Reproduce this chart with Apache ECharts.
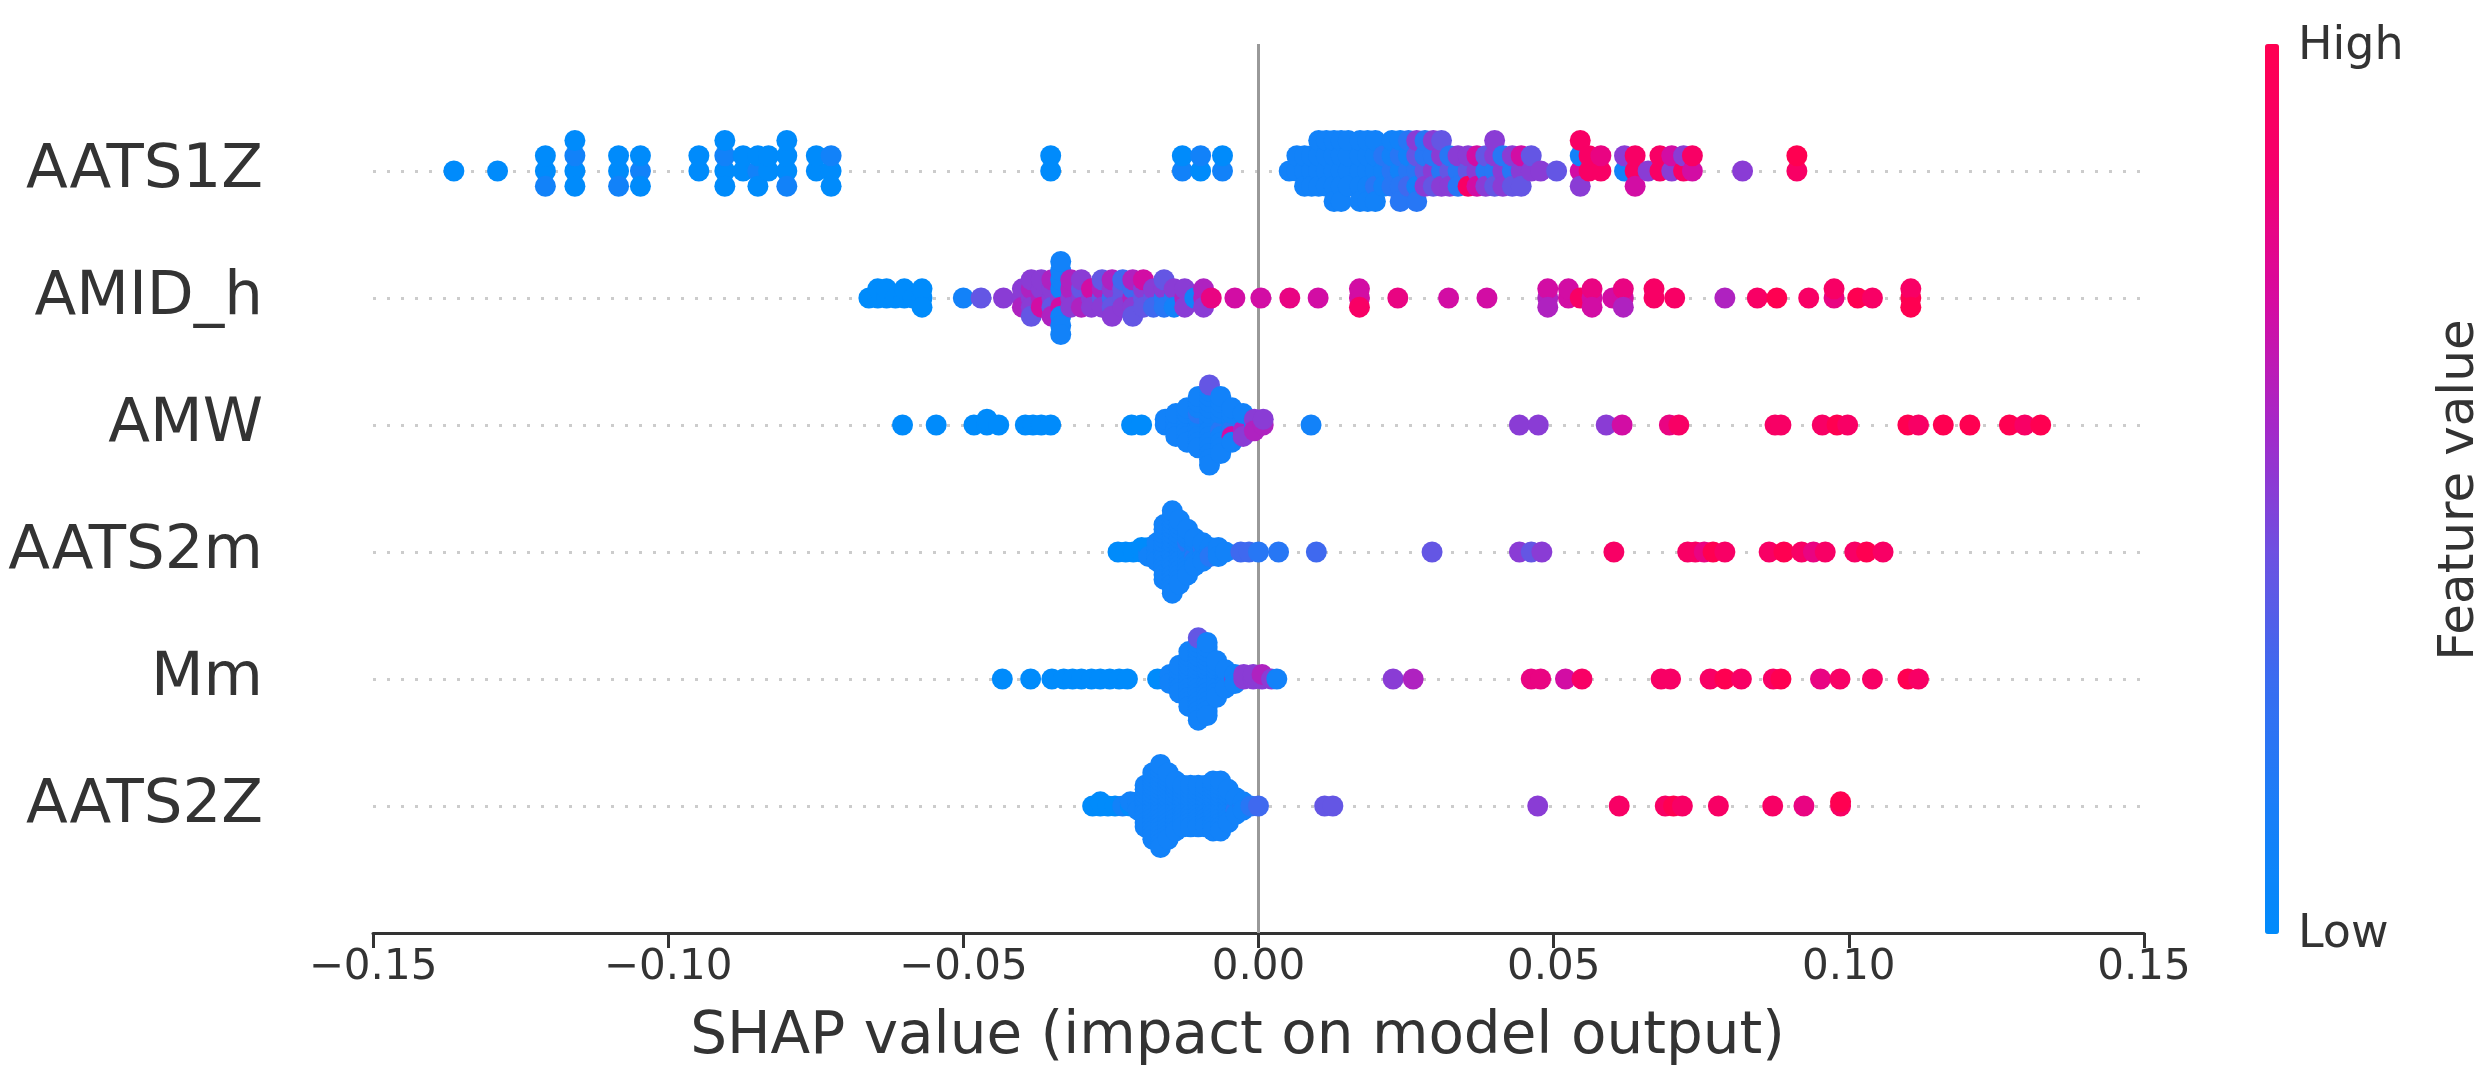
<!DOCTYPE html>
<html><head><meta charset="utf-8">
<script src="https://cdn.jsdelivr.net/npm/echarts@6/dist/echarts.min.js"></script>
<style>html,body{margin:0;padding:0;background:#fff}#c{width:2482px;height:1091px}</style>
</head><body><div id="c"></div>
<script>
// Feature rows, bottom -> top
const featureNames = ['AATS2Z', 'Mm', 'AATS2m', 'AMW', 'AMID_h', 'AATS1Z'];
const xTickValues = [-0.15, -0.10, -0.05, 0.00, 0.05, 0.10, 0.15];
const colorbarLabels = ['High', 'Low'];
// Each group: [SHAP value, [feature values of the points in that bin, 0 (low) .. 10 (high)]]
const AATS1Z = [
  [-0.1363,[0]],[-0.1289,[0]],[-0.1208,[0,0,1]],[-0.1158,[0,1,0,0]],[-0.1084,[0,0,1]],[-0.1047,[1,0,0]],
  [-0.0948,[0,0]],[-0.0904,[0,1,0,0]],[-0.0873,[0,0]],[-0.0848,[1,0,0]],[-0.0830,[0,0]],[-0.0799,[0,0,1,0]],
  [-0.0749,[0,0]],[-0.0724,[0,1,0]],[-0.0352,[0,0]],[-0.0129,[1,0]],[-0.0098,[0,1]],[-0.0061,[1,0]],
  [0.0052,[1]],[0.0065,[1,1]],[0.0078,[1,1,1]],[0.0090,[1,1,1]],[0.0102,[1,1,1,1]],[0.0115,[1,1,1,1]],
  [0.0128,[1,1,1,1,1]],[0.0140,[1,1,1,1,1]],[0.0152,[1,1,1,1]],[0.0172,[1,1,1,1,1]],[0.0185,[1,1,1,1,1]],
  [0.0198,[1,1,2,1,1]],[0.0212,[1,2,1]],[0.0226,[2,1,2,1]],[0.0240,[1,2,2,1,2]],[0.0254,[2,1,3,2]],
  [0.0268,[2,4,1,5,2]],[0.0282,[4,2,5,2]],[0.0296,[5,2,4,5]],[0.0310,[2,5,5,4]],[0.0324,[4,2,5]],
  [0.0338,[2,5,2]],[0.0355,[4,5,9]],[0.0370,[5,7,7]],[0.0385,[2,4,5]],[0.0400,[2,5,4,5]],[0.0414,[5,2,5]],
  [0.0430,[2,5,4]],[0.0445,[5,7,4]],[0.0462,[5,4]],[0.0478,[5]],[0.0505,[4]],[0.0545,[7,1,5,9]],
  [0.0560,[9,9]],[0.0580,[9,8]],[0.0620,[1,5]],[0.0638,[9,9,7]],[0.0660,[5]],[0.0680,[9,9]],
  [0.0700,[5,7]],[0.0720,[9,5]],[0.0735,[7,9]],[0.0820,[5]],[0.0912,[9,10]]
];
const AMID_h = [
  [-0.0660,[0]],[-0.0645,[0,0]],[-0.0630,[0,0]],[-0.0615,[0]],[-0.0600,[0,0]],[-0.0585,[0]],[-0.0570,[0,0,0]],
  [-0.0500,[1]],[-0.0470,[4]],[-0.0432,[5]],
  [-0.0400,[5,5,6]],[-0.0385,[5,6,5,5,4]],[-0.0368,[6,5,7,5]],[-0.0350,[5,5,4,6,6]],
  [-0.0335,[5,1,7,1,1,1,1,1,1]],[-0.0318,[5,6,5,6]],[-0.0300,[5,4,6,5]],[-0.0283,[5,7,5]],
  [-0.0265,[4,6,5,4]],[-0.0248,[3,5,4,6,5]],[-0.0230,[4,4,5,3]],[-0.0213,[6,3,5,6,4]],
  [-0.0195,[4,5,4,7]],[-0.0178,[4,5,3]],[-0.0160,[2,5,2,4]],[-0.0143,[2,5,1]],[-0.0125,[6,5,5]],
  [-0.0108,[1]],[-0.0093,[6,6,5]],
  [-0.0080,[8]],[-0.0040,[7]],[0.0004,[7]],[0.0053,[8]],[0.0101,[7]],[0.0171,[7,7,9]],[0.0236,[8]],
  [0.0322,[7]],[0.0387,[7]],[0.0490,[6,7,6]],[0.0525,[7,7]],[0.0545,[9]],[0.0565,[7,8,7]],[0.0600,[7]],
  [0.0618,[7,8,6]],[0.0670,[9,9]],[0.0705,[9]],[0.0790,[6]],[0.0845,[9]],[0.0878,[10]],[0.0932,[9]],
  [0.0975,[8,9]],[0.1015,[10]],[0.1040,[9]],[0.1105,[10,9,10]]
];
const AMW = [
  [-0.0603,[0]],[-0.0546,[0]],[-0.0482,[0]],[-0.0460,[0,0]],[-0.0440,[0]],[-0.0395,[0]],[-0.0382,[0]],
  [-0.0368,[0]],[-0.0352,[0]],[-0.0215,[0]],[-0.0198,[0]],
  [-0.0158,[1,1]],[-0.0140,[1,1,1,1,1]],[-0.0121,[1,1,1,1,1,1,1]],[-0.0102,[1,1,1,2,1,1,1,1,1,1]],
  [-0.0083,[1,1,1,1,1,1,1,1,1,1,1,1,1,4,1]],[-0.0064,[1,1,2,1,1,1,1,1,1,1,1]],
  [-0.0045,[1,1,2,1,7,1,1]],[-0.0026,[2,1,6,1,5]],[-0.0007,[1,5,6]],[0.0008,[6,5]],[0.0089,[1]],
  [0.0442,[5]],[0.0474,[5]],[0.0589,[5]],[0.0616,[7]],[0.0696,[8]],[0.0712,[9]],[0.0875,[9]],[0.0885,[9]],
  [0.0955,[9]],[0.0980,[10]],[0.0998,[9]],[0.1100,[10]],[0.1118,[9]],[0.1160,[10]],[0.1205,[10]],
  [0.1272,[10]],[0.1298,[9]],[0.1325,[10]]
];
const AATS2m = [
  [-0.0238,[0]],[-0.0225,[0]],[-0.0212,[0]],[-0.0198,[0,0]],[-0.0186,[1,0,1]],[-0.0172,[1,1,1,1,1]],
  [-0.0160,[1,1,1,1,1,1,1,1,1,1,1,1,1]],
  [-0.0146,[1,1,1,1,1,1,1,1,1,1,1,1,1,1,1,1,1,1,1]],
  [-0.0134,[1,1,1,1,1,1,1,1,1,1,1,1,1,1,1]],
  [-0.0120,[1,1,1,2,1,1,1,1,1,1,1]],
  [-0.0108,[1,1,2,1,1,1,1]],[-0.0094,[1,2,1,1,1]],[-0.0082,[1,1,2]],[-0.0068,[1,1,1]],[-0.0056,[1]],
  [-0.0030,[3]],[-0.0016,[3]],[0.0000,[2]],[0.0034,[2]],[0.0098,[3]],
  [0.0294,[4]],[0.0442,[5]],[0.0462,[4]],[0.0480,[5]],[0.0602,[9]],[0.0727,[9]],[0.0740,[9]],
  [0.0755,[8]],[0.0770,[10]],[0.0790,[9]],[0.0865,[9]],[0.0890,[10]],[0.0920,[9]],[0.0940,[8]],
  [0.0960,[9]],[0.1010,[9]],[0.1030,[10]],[0.1058,[9]]
];
const Mm = [
  [-0.0434,[0]],[-0.0386,[0]],[-0.0350,[0]],[-0.0330,[0]],[-0.0315,[0]],[-0.0300,[0]],[-0.0283,[0]],
  [-0.0268,[0]],[-0.0252,[0]],[-0.0236,[0]],[-0.0222,[0]],[-0.0171,[0]],
  [-0.0150,[1,1,1]],[-0.0134,[1,1,1,1,1,1,1]],
  [-0.0118,[1,1,1,1,1,1,1,1,1,1,1,1,1]],
  [-0.0102,[1,1,1,1,1,1,1,1,1,1,1,1,1,1,1,1,1,4,1]],
  [-0.0087,[1,1,1,1,1,1,1,1,1,1,1,1,1,1,1,1,1]],
  [-0.0071,[1,1,1,1,1,1,1,1,1]],[-0.0056,[1,1,1,1,1]],[-0.0040,[6,1,1]],
  [-0.0025,[5,5]],[-0.0009,[5,5]],[0.0006,[5,6]],[0.0022,[5]],[0.0031,[1]],
  [0.0228,[5]],[0.0262,[6]],[0.0462,[8]],[0.0478,[8]],[0.0520,[7]],[0.0548,[9]],[0.0682,[9]],[0.0698,[9]],
  [0.0765,[9]],[0.0790,[10]],[0.0818,[9]],[0.0872,[9]],[0.0885,[10]],[0.0952,[8]],[0.0985,[9]],
  [0.1040,[9]],[0.1100,[10]],[0.1118,[9]]
];
const AATS2Z = [
  [-0.0281,[0]],[-0.0268,[0,0]],[-0.0255,[0]],[-0.0243,[0]],[-0.0230,[1]],[-0.0217,[0,1]],[-0.0204,[1,1,1]],
  [-0.0192,[1,1,1,1,1,1,1,1,1,1,1]],
  [-0.0179,[1,1,1,1,1,1,1,1,1,1,1,1,1,1,1,1,1]],
  [-0.0166,[1,1,1,1,1,1,1,1,1,1,1,1,1,1,1,1,1,1,1,1,1]],
  [-0.0153,[1,1,1,1,1,1,1,1,1,1,1,1,1,1,1,1,1]],
  [-0.0140,[1,1,1,1,1,1,1,1,1,1,1,1,1]],
  [-0.0128,[1,1,1,1,1,1,1,1,1,1,1]],
  [-0.0115,[1,1,1,1,1,1,1,1,1,1,1]],
  [-0.0102,[1,1,1,1,1,1,1,1,1,1,1]],
  [-0.0089,[1,1,1,1,1,1,1,1,1,1,1]],
  [-0.0077,[1,1,1,1,1,1,1,1,1,1,1,1,1]],
  [-0.0064,[1,1,1,1,1,1,1,1,1,1,1,1,1]],
  [-0.0051,[1,1,1,1,1,1,1,1,1]],
  [-0.0038,[1,1,2,1,1]],[-0.0026,[2,1,1]],[-0.0013,[2]],[0.0000,[3]],
  [0.0112,[4]],[0.0126,[4]],[0.0473,[5]],[0.0611,[9]],[0.0689,[9]],[0.0703,[10]],[0.0718,[9]],
  [0.0779,[9]],[0.0871,[9]],[0.0924,[8]],[0.0986,[9,10]]
];
const rowGroups = [AATS2Z, Mm, AATS2m, AMW, AMID_h, AATS1Z];

// shap-style beeswarm stacking (layout only)
function beeswarm(groups, rowIdx) {
  let maxN = 0;
  groups.forEach(g => { maxN = Math.max(maxN, g[1].length); });
  const maxPos = Math.floor(maxN / 2);
  const step = 0.9 * 0.4 / (maxPos + 1);
  const pts = [];
  groups.forEach(([x, vals]) => {
    vals.forEach((v, layer) => {
      const off = Math.ceil(layer / 2) * (layer % 2 ? 1 : -1);
      pts.push([x, rowIdx + off * step, v]);
    });
  });
  return pts;
}
let points = [];
rowGroups.forEach((g, i) => { points = points.concat(beeswarm(g, i)); });

const FONT = 'DejaVu Sans';
const chart = echarts.init(document.getElementById('c'), null, {renderer: 'canvas'});
const rowLines = featureNames.map((n, i) => ({yAxis: i, lineStyle: {color: '#cccccc', width: 3, type: [3, 11]}}));
chart.setOption({
  animation: false,
  backgroundColor: '#ffffff',
  grid: {left: 373, right: 338, top: 44, bottom: 158},
  xAxis: {
    type: 'value', min: -0.15, max: 0.15, interval: 0.05,
    axisLine: {show: true, onZero: false, lineStyle: {color: '#333333', width: 3}},
    axisTick: {show: true, length: 15, lineStyle: {color: '#333333', width: 3}},
    splitLine: {show: false},
    axisLabel: {
      fontSize: 42, color: '#333333', fontFamily: FONT, margin: 14,
      formatter: v => {
        const t = xTickValues.find(k => Math.abs(k - v) < 1e-9);
        const val = t === undefined ? v : t;
        return (val < -1e-12 ? '\u2212' : '') + Math.abs(val).toFixed(2);
      }
    },
    name: 'SHAP value (impact on model output)', nameLocation: 'middle', nameGap: 76,
    nameTextStyle: {fontSize: 58, color: '#333333', fontFamily: FONT, padding: [0, 42, 0, 0]}
  },
  yAxis: {
    type: 'value', min: -1, max: 6, interval: 1,
    axisLine: {show: false}, axisTick: {show: false}, splitLine: {show: false},
    axisLabel: {
      fontSize: 61, color: '#333333', fontFamily: FONT, margin: 110,
      formatter: v => (Number.isInteger(v) && v >= 0 && v < featureNames.length) ? featureNames[v] : ''
    }
  },
  visualMap: {
    type: 'continuous', seriesIndex: 1, dimension: 2, min: 0, max: 10,
    orient: 'vertical', left: 2265, top: 44, itemWidth: 14, itemHeight: 890, padding: 0,
    calculable: false, hoverLink: false, text: null, showLabel: false,
    inRange: {color: ['#008bfb', '#1a7ef8', '#3a6cf0', '#6e50e1', '#a528c8', '#d70aa0', '#f5006e', '#ff0051']}
  },
  graphic: [
    {type: 'text', left: 2298, top: 24, style: {text: colorbarLabels[0], fontSize: 46, fontFamily: FONT, fill: '#333333'}},
    {type: 'text', left: 2298, top: 912, style: {text: colorbarLabels[1], fontSize: 46, fontFamily: FONT, fill: '#333333'}},
    {type: 'text', x: 2460, y: 490, rotation: Math.PI / 2,
      style: {text: 'Feature value', fontSize: 50, fontFamily: FONT, fill: '#333333', align: 'center', verticalAlign: 'middle'}}
  ],
  series: [
    {
      type: 'scatter', data: [], z: 1, zlevel: 0, silent: true,
      markLine: {
        silent: true, symbol: 'none', label: {show: false}, animation: false,
        data: rowLines.concat([{xAxis: 0, lineStyle: {color: '#999999', width: 3, type: 'solid'}}])
      }
    },
    {
      type: 'scatter', data: points, symbolSize: 21, z: 3, zlevel: 1,
      itemStyle: {opacity: 1, borderWidth: 0}
    }
  ]
});
</script>
</body></html>
